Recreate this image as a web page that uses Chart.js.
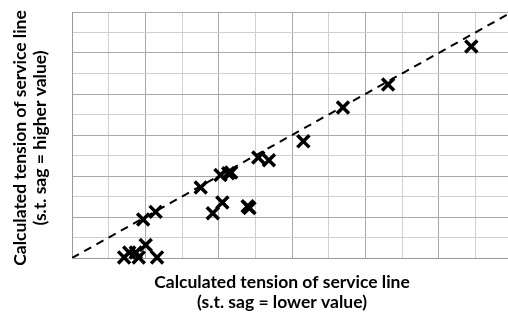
<!DOCTYPE html>
<html>
<head>
<meta charset="utf-8">
<script src="https://cdn.jsdelivr.net/npm/chart.js@4"></script>
<style>
  html, body { margin: 0; padding: 0; background: #fff; overflow: hidden; }
  #wrap { width: 540px; height: 320px; }
</style>
</head>
<body>
<div id="wrap"><canvas id="tension"></canvas></div>
<script>
// tension with lower sag value (x) vs higher sag value (y)
const lowerSag = [10.89, 8.62, 7.39, 6.31, 5.08, 5.37, 4.05, 4.26, 4.34, 3.51, 3.84, 4.10,
                  4.79, 4.84, 1.94, 2.28, 1.42, 1.56, 1.74, 1.82, 2.01, 2.32];
const higherSag = [10.32, 8.46, 7.34, 5.69, 4.90, 4.77, 4.05, 4.13, 4.17, 3.44, 2.18, 2.71,
                   2.52, 2.44, 1.88, 2.25, 0.03, 0.27, 0.27, 0.03, 0.63, 0.03];
// 1:1 reference line
const lineX = [0, 12];
const lineY = [0, 12];

const xTitle = ['Calculated tension of service line', '(s.t. sag = lower value)'];
const yTitle = ['Calculated tension of service line', '(s.t. sag = higher value)'];

const points = lowerSag.map((x, i) => ({ x: x, y: higherSag[i] }));
const diag = lineX.map((x, i) => ({ x: x, y: lineY[i] }));

const gridColor = ctx => (ctx.tick && ctx.tick.value % 2 === 0) ? '#a9a9a9' : '#d0d0d0';

// axis titles drawn by hand so they can sit where the layout wants them
const axisTitles = {
  id: 'axisTitles',
  afterDraw(chart) {
    const c = chart.ctx;
    c.save();
    c.fillStyle = '#000';
    c.font = 'bold 17.5px Lato, "Open Sans", sans-serif';
    c.textAlign = 'center';
    c.textBaseline = 'middle';
    c.fillText(xTitle[0], 282, 282);
    c.fillText(xTitle[1], 282, 302);
    c.translate(20, 138);
    c.rotate(-Math.PI / 2);
    c.fillText(yTitle[0], 0, 0);
    c.fillText(yTitle[1], 0, 20);
    c.restore();
  }
};

new Chart(document.getElementById('tension'), {
  type: 'scatter',
  data: {
    datasets: [
      {
        data: points,
        pointStyle: 'crossRot',
        pointRadius: 8.5,
        pointBorderWidth: 3.5,
        borderColor: '#000',
        backgroundColor: '#000',
        clip: false
      },
      {
        type: 'line',
        data: diag,
        borderColor: '#000',
        borderWidth: 2,
        borderDash: [8, 6],
        pointRadius: 0,
        fill: false
      }
    ]
  },
  options: {
    responsive: true,
    maintainAspectRatio: false,
    animation: false,
    layout: { padding: { left: 72, top: 8, right: 28, bottom: 62 } },
    plugins: { legend: { display: false }, tooltip: { enabled: false } },
    scales: {
      x: {
        type: 'linear', min: 0, max: 12,
        ticks: { display: false, stepSize: 1 },
        grid: { color: gridColor, drawTicks: false },
        border: { color: '#9a9a9a', width: 1 }
      },
      y: {
        type: 'linear', min: 0, max: 12,
        ticks: { display: false, stepSize: 1 },
        grid: { color: gridColor, drawTicks: false },
        border: { color: '#9a9a9a', width: 1 }
      }
    }
  },
  plugins: [axisTitles]
});
</script>
</body>
</html>
